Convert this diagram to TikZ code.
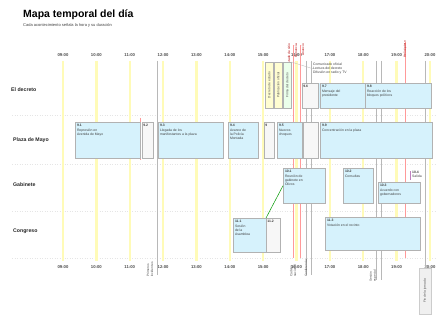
\documentclass[tikz,border=0pt]{standalone}
\usepackage{fontspec}
\setmainfont{Liberation Sans}
\begin{document}
\begin{tikzpicture}[x=1pt,y=-1pt,
  hourline/.style={draw=yellow!28!white, line width=2.4pt},
  hourlbl/.style={font=\fontsize{4.2}{5}\selectfont\bfseries, text=black!70, inner sep=0},
  rowlbl/.style={font=\fontsize{5.2}{6}\selectfont\bfseries, text=black!85, anchor=west, inner sep=0},
  evbox/.style={draw=black!30, fill=cyan!16!white, line width=0.4pt, inner sep=0},
  narrow/.style={draw=black!30, fill=black!3, line width=0.4pt, inner sep=0},
  boxlbl/.style={font=\fontsize{3.4}{4}\selectfont, text=black!75, align=left, inner sep=0},
  rottxt/.style={font=\fontsize{3.2}{3.8}\selectfont, rotate=90, inner sep=0, align=left},
  evline/.style={draw=black!28, line width=0.45pt},
  redline/.style={draw=red!40, line width=0.5pt},
  rowsep/.style={draw=black!10, line width=0.3pt, dash pattern=on 1pt off 1.5pt}
]
\useasboundingbox (0,0) rectangle (443,320);
\fill[white] (0,0) rectangle (443,320);
\newcommand{\ebox}[7]{%
  \node[evbox, minimum width=#4pt, minimum height=#5pt, anchor=north west] (#1) at (#2,#3) {};
  \node[boxlbl, anchor=north west] (#1t) at (#2+1.8,#3+2) {\textbf{#6}\\[0.6pt]#7};}
\newcommand{\nbox}[6]{%
  \node[narrow, minimum width=#4pt, minimum height=#5pt, anchor=north west] (#1) at (#2,#3) {};
  \node[boxlbl, anchor=north west] (#1t) at (#2+1.2,#3+2) {\textbf{#6}};}

% title
\node[anchor=west, inner sep=0, font=\fontsize{10.5}{12}\selectfont\bfseries] (title) at (23,15) {Mapa temporal del día};
\node[anchor=west, inner sep=0, font=\fontsize{4}{5}\selectfont, text=black!75] (subtitle) at (23,25) {Cada acontecimiento señala la hora y su duración};

% row separators
\foreach \yy in {115,164,211,258} \draw[rowsep] (12,\yy) -- (436,\yy);

% hour lines and labels
\foreach \h [count=\i from 0] in {09,10,11,12,13,14,15,16,17,18,19,20} {
  \pgfmathsetmacro{\xx}{63+\i*33.36}
  \draw[hourline] (\xx,61) -- (\xx,261);
  \node[hourlbl] (ht\i) at (\xx,55) {\h:00};
  \node[hourlbl] (hb\i) at (\xx,267) {\h:00};
}

% row labels
\node[rowlbl] (r1) at (11,90) {El decreto};
\node[rowlbl] (r2) at (13,140) {Plaza de Mayo};
\node[rowlbl] (r3) at (13,185) {Gabinete};
\node[rowlbl] (r4) at (13,231) {Congreso};

% event marker lines
\draw[redline] (140,118) -- (140,160);
\draw[evline] (157,61) -- (157,275);
\draw[redline] (293,45) -- (293,258);
\draw[redline] (300,45) -- (300,258);
\draw[evline] (306,61) -- (306,275);
\draw[evline] (311,61) -- (311,275);
\draw[evline] (376,61) -- (376,280);
\draw[evline] (381,61) -- (381,280);
\draw[redline] (405,42) -- (405,258);
\draw[evline] (425,61) -- (425,268);

% top markers (red, rotated)
\node[rottxt, text=red!70!black, anchor=east] (m1) at (289,44) {Estado de sitio};
\node[rottxt, text=red!70!black, anchor=east] (m2) at (296,44) {Renuncia};
\node[rottxt, text=red!70!black, anchor=east] (m3) at (303,44) {Anuncio};
\node[rottxt, text=red!70!black, anchor=east] (m4) at (405,41) {Helicóptero};

% bottom markers (rotated)
\node[rottxt, text=black!70, anchor=west] (b1) at (150,277) {Primeros\\incidentes};
\node[rottxt, text=black!70, anchor=west] (b2) at (293,277) {Cadena\\nacional};
\node[rottxt, text=black!70, anchor=west] (b3) at (306,277) {Conferencia};
\node[rottxt, text=black!70, anchor=west] (b4) at (373,282) {Sesión\\especial};
\node[narrow, fill=black!6, draw=black!20, minimum width=12pt, minimum height=46pt, anchor=north west] (b5box) at (419,268) {};
\node[rottxt, text=black!70] (b5) at (425,291) {Fin de la jornada};

% row 1
\fill[cyan!16!white] (302,83) rectangle (431,108);
\node[narrow, fill=yellow!18!white, minimum width=8pt, minimum height=46pt, anchor=north west] (d1) at (265,62) {};
\node[narrow, fill=yellow!18!white, minimum width=8pt, minimum height=46pt, anchor=north west] (d2) at (274,62) {};
\node[narrow, fill=green!8!white, minimum width=8pt, minimum height=46pt, anchor=north west] (d3) at (283,62) {};
\node[rottxt, text=black!70] (d1t) at (d1) {Decreto de estado};
\node[rottxt, text=black!70] (d2t) at (d2) {Publicación oficial};
\node[rottxt, text=black!70] (d3t) at (d3) {Firma del decreto};
\nbox{d4}{302}{83}{16}{25}{9.6}
\ebox{d5}{320}{83}{45}{25}{9.7}{Mensaje del\\presidente}
\ebox{d6}{365}{83}{66}{25}{9.8}{Reacción de los\\bloques políticos}
\node[boxlbl, anchor=north west] (note) at (313,63) {Comunicado oficial\\Lectura del decreto\\Difusión en radio y TV};
\draw[evline, line width=0.3pt] (d3.north east) -- (note.west);

% row 2
\ebox{p1}{75}{122}{65}{36}{9.1}{Represión en\\Avenida de Mayo}
\nbox{p2}{142}{122}{11}{36}{9.2}
\ebox{p3}{158}{122}{65}{36}{9.3}{Llegada de los\\manifestantes a la plaza}
\ebox{p4}{228}{122}{30}{36}{9.4}{Avance de\\la Policía\\Montada}
\nbox{p5}{264}{122}{10}{36}{9}
\ebox{p6}{277}{122}{25}{36}{9.5}{Nuevos\\choques}
\nbox{p7}{303}{122}{15}{36}{}
\ebox{p8}{320}{122}{112}{36}{9.9}{Concentración en la plaza}

% row 3
\ebox{o1}{283}{168}{42}{35}{10.1}{Reunión de\\gabinete en\\Olivos}
\ebox{o2}{343}{168}{30}{35}{10.2}{Consultas}
\ebox{o3}{378}{182}{42}{21}{10.3}{Acuerdo con\\gobernadores}
\node[boxlbl, anchor=west] (o4) at (412,174) {\textbf{10.4}\\Salida};
\draw[draw=violet!50, line width=0.5pt] (410,171) -- (410,180);

% row 4
\ebox{c1}{233}{218}{33}{34}{11.1}{Sesión\\de la\\Asamblea}
\nbox{c2}{266}{218}{14}{34}{11.2}
\ebox{c3}{325}{217}{95}{33}{11.3}{Votación en el recinto}
\draw[green!60!black, line width=0.5pt] (c2.north west) -- (o1.west);

\end{tikzpicture}
\end{document}
